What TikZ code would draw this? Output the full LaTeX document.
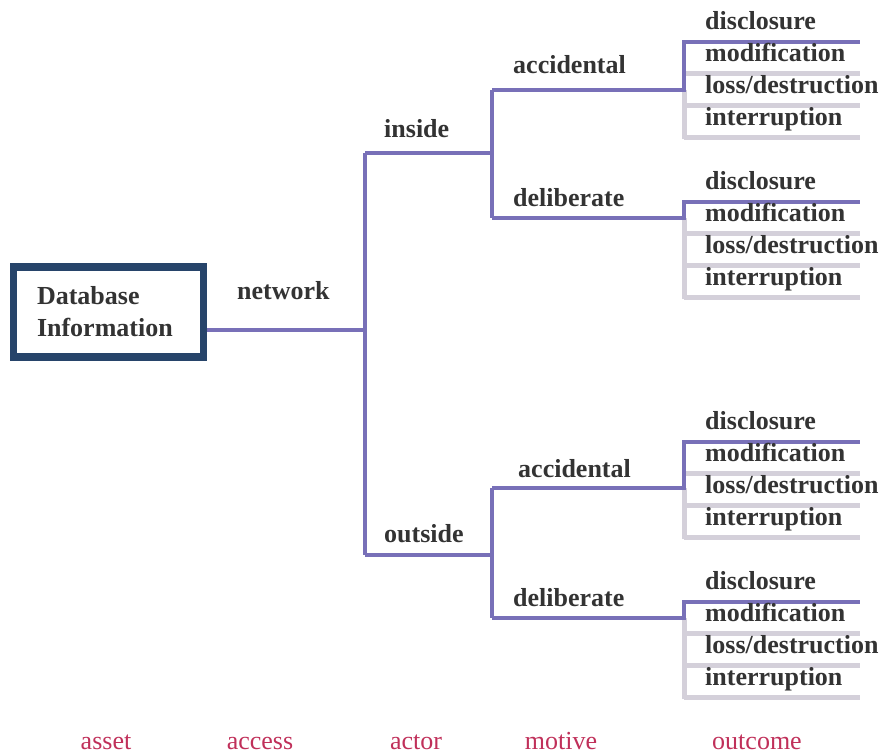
\documentclass[tikz,border=0pt]{standalone}
\usepackage{fontspec}
\setmainfont{Liberation Serif}
\definecolor{txt}{HTML}{333333}
\definecolor{purp}{HTML}{7870B8}
\definecolor{grayl}{HTML}{D4D0DA}
\definecolor{navy}{HTML}{27446A}
\definecolor{crim}{HTML}{C0305A}
\begin{document}
\begin{tikzpicture}[x=1pt,y=-1pt,
  lbl/.style={font=\fontsize{26}{32}\selectfont\bfseries, text=txt, inner sep=0pt, anchor=base west},
  axislbl/.style={font=\fontsize{26}{32}\selectfont, text=crim, inner sep=0pt, anchor=base},
  pl/.style={draw=purp, line width=4.6pt, line join=miter},
  gl/.style={draw=grayl, line width=5pt},
  dbbox/.style={draw=navy, line width=7.5pt, fill=white, minimum width=190pt, minimum height=90pt,
    text width=143pt, inner xsep=23.5pt, align=left, font=\fontsize{26}{32}\selectfont\bfseries, text=txt}]
\useasboundingbox (0,0) rectangle (883,755);

% asset box
\node[dbbox] (db) at (108.5,312) {Database\\Information};

% junction coordinates
\coordinate (n0) at (365,330);
\coordinate (tin) at (365,153);
\coordinate (tout) at (365,555);
\coordinate (jin) at (492,153);
\coordinate (jout) at (492,555);
\coordinate (ina) at (492,90);
\coordinate (ind) at (492,218);
\coordinate (outa) at (492,488);
\coordinate (outd) at (492,618);

% leaf groups
\foreach \g/\t/\j/\s in {a/42/90/ina, b/202/218/ind, c/442/488/outa, d/602/618/outd} {
  \coordinate (\g top) at (684,\t);
  \coordinate (\g join) at (684,\j);
  \coordinate (\g bot) at (684,{\t+97});
  \coordinate (\g e0) at (860,\t);
  \coordinate (\g e1) at (860,{\t+31});
  \coordinate (\g e2) at (860,{\t+63});
  \coordinate (\g e3) at (860,{\t+95});
  \coordinate (\g s1) at (684,{\t+31});
  \coordinate (\g s2) at (684,{\t+63});
  \coordinate (\g s3) at (684,{\t+95});
  \draw[gl] (\g join) -- (\g bot);
  \draw[gl] (\g s1) -- (\g e1);
  \draw[gl] (\g s2) -- (\g e2);
  \draw[gl] (\g s3) -- (\g e3);
  \draw[pl] (\s) -- (\g join) -- (\g top) -- (\g e0);
  \node[lbl] (\g l0) at (705,{\t-13}) {disclosure};
  \node[lbl] (\g l1) at (705,{\t+19}) {modification};
  \node[lbl] (\g l2) at (705,{\t+51}) {loss/destruction};
  \node[lbl] (\g l3) at (705,{\t+83}) {interruption};
}

% tree connectors
\draw[pl] (db.east |- n0) -- (n0);
\draw[pl] (tin) -- (tout);
\draw[pl] (tin) -- (jin);
\draw[pl] (tout) -- (jout);
\draw[pl] (ina) -- (ind);
\draw[pl] (outa) -- (outd);

% branch labels
\node[lbl] (lnet) at (237,299) {network};
\node[lbl] (lin) at (384,137) {inside};
\node[lbl] (lout) at (384,542) {outside};
\node[lbl] (lacc1) at (513,73) {accidental};
\node[lbl] (ldel1) at (513,206) {deliberate};
\node[lbl] (lacc2) at (518,477) {accidental};
\node[lbl] (ldel2) at (513,606) {deliberate};

% axis labels
\node[axislbl] (xasset) at (106,749) {asset};
\node[axislbl] (xaccess) at (260,749) {access};
\node[axislbl] (xactor) at (416,749) {actor};
\node[axislbl] (xmotive) at (561,749) {motive};
\node[axislbl] (xoutcome) at (757,749) {outcome};
\end{tikzpicture}
\end{document}
